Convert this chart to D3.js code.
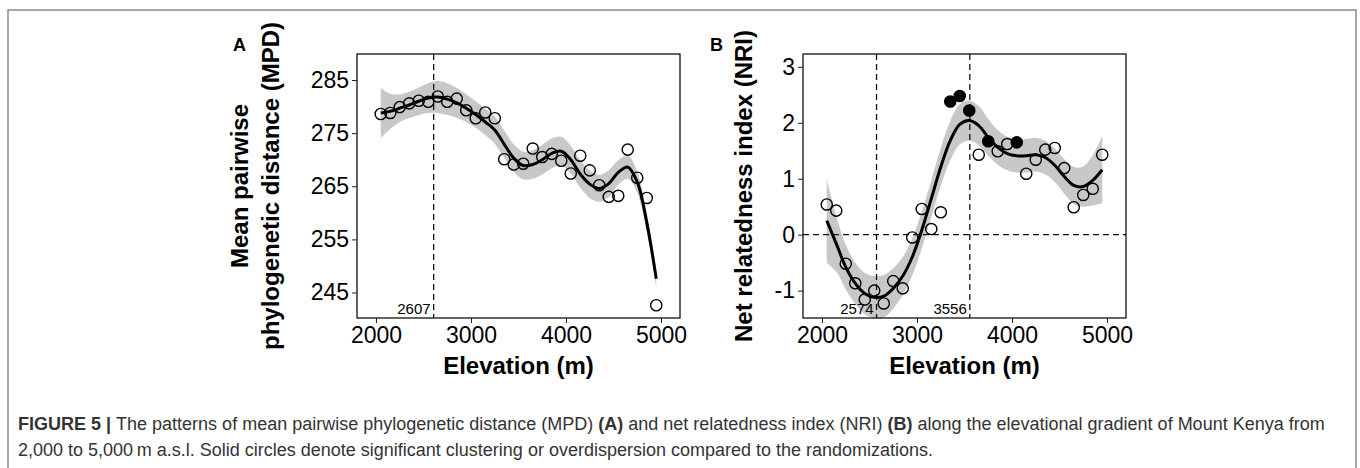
<meta charset="utf-8" />
<script src="https://d3js.org/d3.v7.min.js"></script>
<style>
  body { margin: 0; background: #fff; }
  text { font-family: "Liberation Sans", Arial, Helvetica, sans-serif; }
</style>
<div id="fig"></div>
<script>
  // sampled elevations (m)
  const elevation = [2050, 2150, 2250, 2350, 2450, 2550, 2650, 2750, 2850, 2950,
    3050, 3150, 3250, 3350, 3450, 3550, 3650, 3750, 3850, 3950,
    4050, 4150, 4250, 4350, 4450, 4550, 4650, 4750, 4850, 4950];

  // panel A: MPD observed
  const mpd = [278.6, 278.8, 279.9, 280.6, 281.1, 280.9, 281.9, 280.9, 281.5, 279.3,
    277.8, 278.9, 277.8, 270.1, 269.1, 269.25, 272.1, 270.5, 271.1, 269.8,
    267.4, 270.75, 268.0, 265.2, 263.0, 263.2, 271.9, 266.6, 262.8, 242.6];
  // fitted curve + band half width
  const mpdFit = [278.8, 279.1, 279.7, 280.3, 281.0, 281.6, 281.8, 281.4, 280.7, 279.7,
    278.5, 277.1, 275.6, 272.9, 270.3, 268.9, 269.1, 270.0, 271.2, 271.6,
    270.0, 267.3, 265.4, 264.6, 265.5, 267.6, 268.6, 265.8, 258.2, 247.6];
  const mpdBand = [4.7, 3.3, 2.6, 2.5, 2.6, 2.8, 3.0, 3.0, 2.8, 2.6,
    2.5, 2.5, 2.6, 2.6, 2.6, 2.6, 2.7, 2.8, 2.8, 2.7,
    2.6, 2.6, 2.6, 2.5, 2.5, 2.3, 2.2, 2.0, 1.8, 1.6];

  // panel B: NRI observed
  const nri = [0.54, 0.43, -0.52, -0.87, -1.16, -1.0, -1.23, -0.83, -0.96, -0.05,
    0.46, 0.10, 0.40, 2.38, 2.48, 2.22, 1.43, 1.67, 1.49, 1.62,
    1.65, 1.09, 1.34, 1.52, 1.55, 1.19, 0.49, 0.71, 0.82, 1.43];
  const nriSolid = [3350, 3450, 3550, 3750, 4050];
  const nriFit = [0.25, -0.16, -0.58, -0.87, -1.05, -1.12, -1.10, -0.96, -0.74, -0.40,
    0.08, 0.64, 1.21, 1.68, 1.97, 2.04, 1.95, 1.74, 1.56, 1.45,
    1.41, 1.41, 1.43, 1.38, 1.24, 1.04, 0.88, 0.86, 0.97, 1.16];
  const nriBand = [0.75, 0.5, 0.4, 0.37, 0.37, 0.38, 0.38, 0.36, 0.34, 0.33,
    0.33, 0.33, 0.34, 0.35, 0.36, 0.36, 0.35, 0.33, 0.31, 0.3,
    0.3, 0.3, 0.3, 0.3, 0.3, 0.31, 0.33, 0.36, 0.45, 0.6];

  const xTicks = [2000, 3000, 4000, 5000];
  const mpdTicks = [245, 255, 265, 275, 285];
  const nriTicks = [-1, 0, 1, 2, 3];
  const mpdBreaks = [2607];
  const nriBreaks = [2574, 3556];

  const W = 1360, H = 468;
  const svg = d3.select('#fig').append('svg')
    .attr('width', W).attr('height', H);

  // figure frame
  svg.append('rect')
    .attr('x', 8).attr('y', 10).attr('width', 1348).attr('height', 480)
    .attr('fill', 'none').attr('stroke', '#8a8a8a').attr('stroke-width', 1.5);

  function panel(opt) {
    const x = d3.scaleLinear().domain([1800, 5200]).range([opt.left, opt.right]);
    const y = d3.scaleLinear().domain(opt.yDomain).range([opt.bottom, opt.top]);
    const g = svg.append('g');

    const rows = elevation.map((e, i) => ({ e: e, v: opt.obs[i], f: opt.fit[i], s: opt.band[i] }));

    // confidence band
    g.append('path').datum(rows)
      .attr('fill', '#c8c8c8')
      .attr('d', d3.area().curve(d3.curveCatmullRom)
        .x(d => x(d.e)).y0(d => y(d.f - d.s)).y1(d => y(d.f + d.s)));

    // dashed reference lines
    opt.breaks.forEach(b => {
      g.append('line')
        .attr('x1', x(b)).attr('x2', x(b)).attr('y1', opt.top).attr('y2', opt.bottom)
        .attr('stroke', '#111').attr('stroke-width', 1.3).attr('stroke-dasharray', '6,4');
      g.append('text')
        .attr('x', x(b) - 3).attr('y', opt.bottom - 4)
        .attr('text-anchor', 'end').attr('font-size', 15).text(b);
    });
    if (opt.zeroLine) {
      g.append('line')
        .attr('x1', opt.left).attr('x2', opt.right).attr('y1', y(0)).attr('y2', y(0))
        .attr('stroke', '#111').attr('stroke-width', 1.3).attr('stroke-dasharray', '6,4');
    }

    // fitted line
    g.append('path').datum(rows)
      .attr('fill', 'none').attr('stroke', '#000').attr('stroke-width', 3)
      .attr('d', d3.line().curve(d3.curveCatmullRom).x(d => x(d.e)).y(d => y(d.f)));

    // points
    g.selectAll('circle').data(rows).join('circle')
      .attr('cx', d => x(d.e)).attr('cy', d => y(d.v)).attr('r', 5.6)
      .attr('fill', d => (opt.solid.includes(d.e) ? '#000' : 'none'))
      .attr('stroke', '#000').attr('stroke-width', 1.4);

    // frame
    g.append('rect')
      .attr('x', opt.left).attr('y', opt.top)
      .attr('width', opt.right - opt.left).attr('height', opt.bottom - opt.top)
      .attr('fill', 'none').attr('stroke', '#111').attr('stroke-width', 1.3);

    const xa = g.append('g').attr('transform', `translate(0,${opt.bottom})`)
      .call(d3.axisBottom(x).tickValues(xTicks).tickFormat(d3.format('d'))
        .tickSize(5).tickPadding(4));
    const ya = g.append('g').attr('transform', `translate(${opt.left},0)`)
      .call(d3.axisLeft(y).tickValues(opt.ticks).tickFormat(d3.format('d'))
        .tickSize(5).tickPadding(3));
    [xa, ya].forEach(a => {
      a.select('.domain').remove();
      a.selectAll('line').attr('stroke', '#222');
      a.selectAll('text').attr('font-size', 23).attr('fill', '#000')
        .attr('font-family', '"Liberation Sans", Arial, sans-serif');
    });
    // plain hyphen for negatives, as in the original
    ya.selectAll('text').text(d => String(d));

    g.append('text')
      .attr('x', (opt.left + opt.right) / 2).attr('y', 374)
      .attr('text-anchor', 'middle').attr('font-size', 24).attr('font-weight', 'bold')
      .text('Elevation (m)');

    opt.yTitle.forEach((t, i) => {
      g.append('text')
        .attr('transform', `translate(${opt.titleX[i]},${(opt.top + opt.bottom) / 2}) rotate(-90)`)
        .attr('text-anchor', 'middle').attr('font-size', 24).attr('font-weight', 'bold')
        .text(t);
    });

    g.append('text')
      .attr('x', opt.tagX).attr('y', 51)
      .attr('font-size', 18).attr('font-weight', 'bold').text(opt.tag);
  }

  panel({
    left: 357, right: 680, top: 54, bottom: 318,
    yDomain: [240.2, 289.9], ticks: mpdTicks,
    obs: mpd, fit: mpdFit, band: mpdBand, solid: [],
    breaks: mpdBreaks, zeroLine: false,
    yTitle: ['Mean pairwise', 'phylogenetic distance (MPD)'], titleX: [248, 279],
    tag: 'A', tagX: 233
  });

  panel({
    left: 803, right: 1126, top: 54, bottom: 318,
    yDomain: [-1.49, 3.23], ticks: nriTicks,
    obs: nri, fit: nriFit, band: nriBand, solid: nriSolid,
    breaks: nriBreaks, zeroLine: true,
    yTitle: ['Net relatedness index (NRI)'], titleX: [752],
    tag: 'B', tagX: 710
  });

  // caption
  const cap = svg.append('g').attr('fill', '#333').attr('font-size', 18);
  const l1 = cap.append('text').attr('x', 18).attr('y', 430);
  l1.append('tspan').attr('font-weight', 'bold').text('FIGURE 5 | ');
  l1.append('tspan').text('The patterns of mean pairwise phylogenetic distance (MPD) ');
  l1.append('tspan').attr('font-weight', 'bold').text('(A)');
  l1.append('tspan').text(' and net relatedness index (NRI) ');
  l1.append('tspan').attr('font-weight', 'bold').text('(B)');
  l1.append('tspan').text(' along the elevational gradient of Mount Kenya from');
  cap.append('text').attr('x', 18).attr('y', 456)
    .text('2,000 to 5,000\u2009m a.s.l. Solid circles denote significant clustering or overdispersion compared to the randomizations.');
</script>
